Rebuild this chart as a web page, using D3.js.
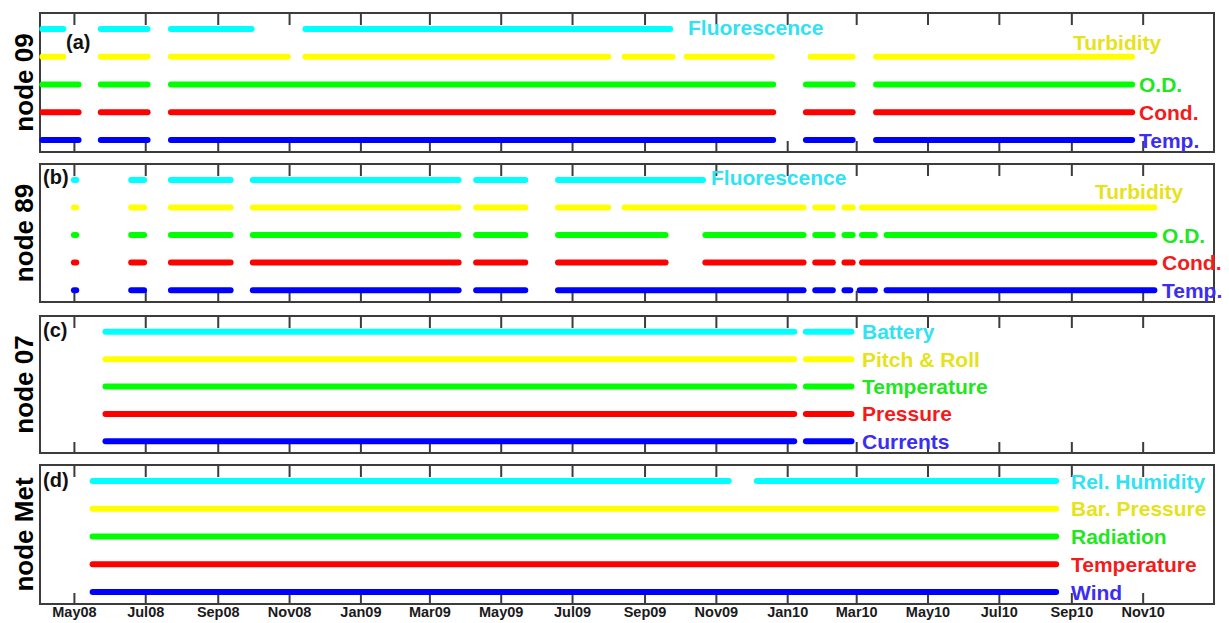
<!DOCTYPE html>
<html>
<head>
<meta charset="utf-8">
<script src="https://cdn.jsdelivr.net/npm/d3@7"></script>
<style>
  body { margin: 0; background: #fff; }
  text { font-family: "Liberation Sans", Arial, sans-serif; font-weight: bold; }
</style>
</head>
<body>
<svg id="chart" width="1229" height="623"></svg>
<script>

// ---- data ----
var nodeNames = ['node 09', 'node 89', 'node 07', 'node Met'];
var panelTags = ['(a)', '(b)', '(c)', '(d)'];

// series labels, top row first
var node09Labels = ['Fluorescence', 'Turbidity', 'O.D.', 'Cond.', 'Temp.'];
var node89Labels = ['Fluorescence', 'Turbidity', 'O.D.', 'Cond.', 'Temp.'];
var node07Labels = ['Battery', 'Pitch & Roll', 'Temperature', 'Pressure', 'Currents'];
var nodeMetLabels = ['Rel. Humidity', 'Bar. Pressure', 'Radiation', 'Temperature', 'Wind'];

// data coverage periods [from, to], one list per series, top row first
var node09Runs = [
    [['2008-04-04','2008-04-22'],['2008-05-24','2008-07-03'],['2008-07-23','2008-09-30'],['2008-11-15','2009-09-23']],
    [['2008-04-04','2008-04-22'],['2008-05-24','2008-07-03'],['2008-07-23','2008-10-31'],['2008-11-15','2009-08-01'],
     ['2009-08-15','2009-09-25'],['2009-10-07','2009-12-19'],['2010-01-21','2010-02-26'],['2010-03-18','2010-10-23']],
    [['2008-04-04','2008-05-05'],['2008-05-24','2008-07-03'],['2008-07-23','2009-12-20'],['2010-01-17','2010-02-26'],['2010-03-18','2010-10-23']],
    [['2008-04-04','2008-05-05'],['2008-05-24','2008-07-03'],['2008-07-23','2009-12-20'],['2010-01-17','2010-02-26'],['2010-03-18','2010-10-23']],
    [['2008-04-04','2008-05-05'],['2008-05-24','2008-07-03'],['2008-07-23','2009-12-20'],['2010-01-17','2010-02-26'],['2010-03-18','2010-10-23']]
];

var node89Runs = [
    [['2008-05-01','2008-05-03'],['2008-06-19','2008-06-30'],['2008-07-23','2008-09-12'],['2008-10-01','2009-03-26'],
     ['2009-04-10','2009-05-22'],['2009-06-19','2009-10-21']],
    [['2008-05-01','2008-05-03'],['2008-06-19','2008-06-30'],['2008-07-23','2008-09-12'],['2008-10-01','2009-03-26'],
     ['2009-04-10','2009-05-22'],['2009-06-19','2009-08-01'],['2009-08-15','2010-01-15'],['2010-01-25','2010-02-09'],
     ['2010-02-19','2010-02-26'],['2010-03-06','2010-11-11']],
    [['2008-05-01','2008-05-03'],['2008-06-19','2008-06-30'],['2008-07-23','2008-09-12'],['2008-10-01','2009-03-26'],
     ['2009-04-10','2009-05-22'],['2009-06-19','2009-09-19'],['2009-10-23','2010-01-15'],['2010-01-25','2010-02-09'],
     ['2010-02-19','2010-02-26'],['2010-03-06','2010-03-17'],['2010-03-27','2010-11-11']],
    [['2008-05-01','2008-05-03'],['2008-06-19','2008-06-30'],['2008-07-23','2008-09-12'],['2008-10-01','2009-03-26'],
     ['2009-04-10','2009-05-22'],['2009-06-19','2009-09-19'],['2009-10-23','2010-01-15'],['2010-01-25','2010-02-09'],
     ['2010-02-19','2010-02-26'],['2010-03-06','2010-11-11']],
    [['2008-05-01','2008-05-03'],['2008-06-19','2008-06-30'],['2008-07-23','2008-09-12'],['2008-10-01','2009-03-26'],
     ['2009-04-10','2009-05-22'],['2009-06-19','2010-01-15'],['2010-01-25','2010-02-09'],['2010-02-19','2010-02-24'],
     ['2010-03-04','2010-03-17'],['2010-03-27','2010-11-11']]
];

var node07Runs = [
    [['2008-05-28','2010-01-07'],['2010-01-17','2010-02-25']],
    [['2008-05-28','2010-01-07'],['2010-01-17','2010-02-25']],
    [['2008-05-28','2010-01-07'],['2010-01-17','2010-02-25']],
    [['2008-05-28','2010-01-07'],['2010-01-17','2010-02-25']],
    [['2008-05-28','2010-01-07'],['2010-01-17','2010-02-25']]
];

var nodeMetRuns = [
    [['2008-05-17','2009-11-12'],['2009-12-06','2010-08-19']],
    [['2008-05-17','2010-08-19']],
    [['2008-05-17','2010-08-19']],
    [['2008-05-17','2010-08-19']],
    [['2008-05-17','2010-08-19']]
];

var timeSpan = ['2008-04-02', '2011-01-01'];
var tickSpan = ['2008-05-01', '2010-12-01'];   // May08 ... Nov10, every 2 months

// ---- layout & style ----
var lineColors = ['#00ffff', '#ffff00', '#00ff00', '#ff0000', '#0000ff'];
var textColors = ['#30e2f2', '#e6e21c', '#22e622', '#f21c1c', '#3c2ef0'];

var panels = [
    { top: 13,  bottom: 152, labels: node09Labels,  runs: node09Runs,
      labelPos: [[688, 5.07], [1073, 4.53], [1139, 3], [1139, 2], [1139, 1]], tag: [66, 42] },
    { top: 164, bottom: 302, labels: node89Labels,  runs: node89Runs,
      labelPos: [[711, 5.11], [1095, 4.6], [1162, 3], [1162, 2], [1162, 1]], tag: [43, 177] },
    { top: 316, bottom: 453, labels: node07Labels,  runs: node07Runs,
      labelPos: [[862, 5], [862, 4], [862, 3], [862, 2], [862, 1]], tag: [43, 330] },
    { top: 465, bottom: 604, labels: nodeMetLabels, runs: nodeMetRuns,
      labelPos: [[1071, 5], [1071, 4], [1071, 3], [1071, 2], [1071, 1]], tag: [43, 480] }
];

var left = 40, right = 1214;
var parse = d3.timeParse('%Y-%m-%d');

var svg = d3.select('#chart');

var x = d3.scaleTime()
    .domain(timeSpan.map(parse))
    .range([left, right]);

var tickDates = d3.timeMonth.every(2).range(parse(tickSpan[0]), parse(tickSpan[1]));

panels.forEach(function(p, pi) {

    var y = d3.scaleLinear().domain([0.57, 5.58]).range([p.bottom, p.top]);
    var g = svg.append('g').attr('class', 'panel');

    // frame
    g.append('rect')
        .attr('x', left).attr('y', p.top)
        .attr('width', right - left).attr('height', p.bottom - p.top)
        .style('fill', 'none').style('stroke', '#3c3c3c').style('stroke-width', '2px');

    // ticks, inward on top and bottom
    var isLast = (pi == panels.length - 1);
    var bottomAxis = d3.axisBottom(x).tickValues(tickDates)
        .tickSizeInner(-11).tickSizeOuter(0).tickPadding(3)
        .tickFormat(isLast ? d3.timeFormat('%b%y') : '');
    var topAxis = d3.axisTop(x).tickValues(tickDates)
        .tickSizeInner(-12).tickSizeOuter(0).tickFormat('');

    var gb = g.append('g').attr('transform', 'translate(0,' + p.bottom + ')').call(bottomAxis);
    var gt = g.append('g').attr('transform', 'translate(0,' + p.top + ')').call(topAxis);
    [gb, gt].forEach(function(a) {
        a.select('.domain').remove();
        a.selectAll('line').style('stroke', '#3c3c3c').style('stroke-width', '2px');
    });
    gb.selectAll('text')
        .style('font-size', '14.5px')
        .style('fill', '#1a1a1a')
        .attr('dy', '0.71em');

    // data runs
    p.runs.forEach(function(list, ri) {
        var row = 5 - ri;
        g.selectAll('tmp')
            .data(list).enter()
            .append('line')
            .attr('x1', function(d){ return x(parse(d[0])); })
            .attr('x2', function(d){ return x(parse(d[1])); })
            .attr('y1', y(row))
            .attr('y2', y(row))
            .style('stroke', lineColors[ri])
            .style('stroke-width', '6px')
            .style('stroke-linecap', 'round');
    });

    // series labels
    g.selectAll('.series-label')
        .data(p.labels).enter()
        .append('text')
        .attr('class', 'series-label')
        .text(function(d){ return d; })
        .attr('x', function(d, i){ return p.labelPos[i][0]; })
        .attr('y', function(d, i){ return y(p.labelPos[i][1]); })
        .attr('dy', '0.36em')
        .style('font-size', '21px')
        .style('fill', function(d, i){ return textColors[i]; });

    // panel tag
    g.append('text')
        .text(panelTags[pi])
        .attr('x', p.tag[0]).attr('y', p.tag[1])
        .attr('dy', '0.36em')
        .style('font-size', '20px')
        .style('fill', '#111');

    // node name
    var cy = (p.top + p.bottom) / 2;
    g.append('text')
        .text(nodeNames[pi])
        .attr('transform', 'translate(33,' + cy + ') rotate(-90)')
        .attr('text-anchor', 'middle')
        .style('font-size', '26px')
        .style('fill', '#000');
});

</script>
</body>
</html>
